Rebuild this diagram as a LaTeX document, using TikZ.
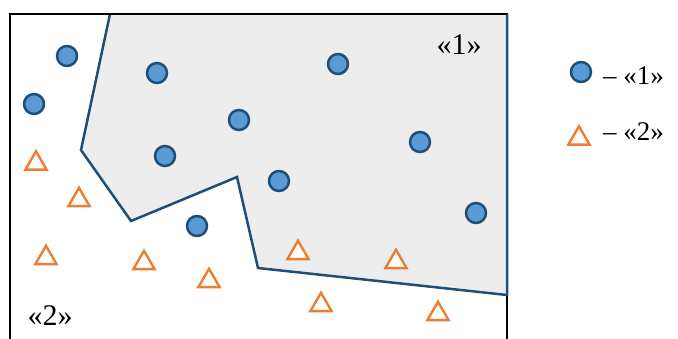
\documentclass[tikz,border=0pt]{standalone}
\usepackage{fontspec}
\setmainfont{Liberation Serif}
\usetikzlibrary{shapes.geometric}
\definecolor{ptfill}{HTML}{5B9BD5}
\definecolor{ptline}{HTML}{1F4E79}
\definecolor{triline}{HTML}{ED7D31}
\definecolor{regfill}{HTML}{EDEDED}
\tikzset{
  cpt/.style={circle,draw=ptline,fill=ptfill,line width=2.5pt,inner sep=0pt,minimum size=20pt},
  tpt/.style={regular polygon,regular polygon sides=3,draw=triline,fill=white,line width=2.4pt,inner sep=0pt,minimum size=24.5pt},
  lbl/.style={inner sep=0pt,font=\fontsize{30}{34}\selectfont},
  leg/.style={inner sep=0pt,font=\fontsize{27}{31}\selectfont},
  region/.style={draw=ptline,fill=regfill,line width=2.5pt,line join=miter},
  frame/.style={draw=black,line width=2.5pt}
}
\begin{document}
\begin{tikzpicture}[x=1pt,y=-1pt]
\useasboundingbox (0,0) rectangle (678,338);
% frame
\coordinate (fbl) at (10,342);
\coordinate (ftl) at (10,14);
\coordinate (ftr) at (507,14);
\coordinate (fbr) at (507,342);
\draw[frame] (fbl) -- (ftl) -- (ftr) -- (fbr);
% region 1
\coordinate (p1) at (110,14);
\coordinate (p2) at (507,14);
\coordinate (p3) at (507,295);
\coordinate (p4) at (258,268);
\coordinate (p5) at (237,177);
\coordinate (p6) at (131,221);
\coordinate (p7) at (81,150);
\fill[regfill] (p1) -- (p2) -- (p3) -- (p4) -- (p5) -- (p6) -- (p7) -- cycle;
\draw[region,fill=none] (p2) -- (p3) -- (p4) -- (p5) -- (p6) -- (p7) -- (p1);
\draw[frame] (ftl) -- (ftr);
% circles
\node[cpt] (c1) at (67,56) {};
\node[cpt] (c2) at (34,104) {};
\node[cpt] (c3) at (157,73) {};
\node[cpt] (c4) at (165,156) {};
\node[cpt] (c5) at (197,226) {};
\node[cpt] (c6) at (239,120) {};
\node[cpt] (c7) at (338,64) {};
\node[cpt] (c8) at (279,181) {};
\node[cpt] (c9) at (420,142) {};
\node[cpt] (c10) at (476,213) {};
% triangles
\node[tpt] (t1) at (36,163.5) {};
\node[tpt] (t2) at (79,200) {};
\node[tpt] (t3) at (46,258) {};
\node[tpt] (t4) at (144,263) {};
\node[tpt] (t5) at (209,281) {};
\node[tpt] (t6) at (298,253) {};
\node[tpt] (t7) at (396,262) {};
\node[tpt] (t8) at (321,305) {};
\node[tpt] (t9) at (438,314) {};
% labels
\node[lbl] (l1) at (459,45) {«1»};
\node[lbl] (l2) at (50,316) {«2»};
% legend
\node[cpt] (lc) at (581,72) {};
\node[leg,anchor=west] (lct) at (603,76) {– «1»};
\node[tpt] (lt) at (579,138.5) {};
\node[leg,anchor=west] (ltt) at (603,131.5) {– «2»};
\end{tikzpicture}
\end{document}
